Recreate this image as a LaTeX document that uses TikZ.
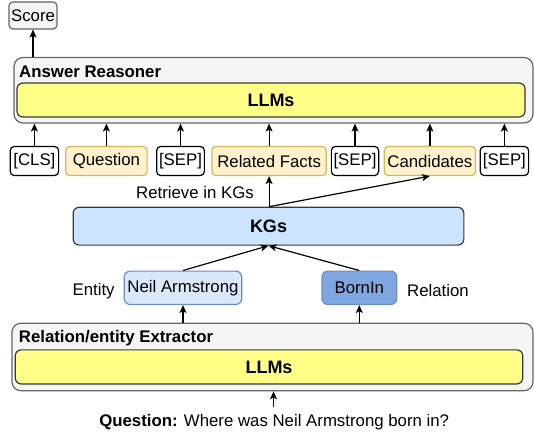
\documentclass[tikz,border=0pt]{standalone}
\usepackage{fontspec}
\setmainfont{Liberation Sans}
\usetikzlibrary{arrows.meta}
\definecolor{grayfill}{HTML}{F5F5F5}
\definecolor{graystroke}{HTML}{666666}
\definecolor{llmfill}{HTML}{FFFF88}
\definecolor{darkstroke}{HTML}{36393D}
\definecolor{tokfill}{HTML}{FFF2CC}
\definecolor{tokstroke}{HTML}{D6B656}
\definecolor{kgfill}{HTML}{CCE5FF}
\definecolor{entfill}{HTML}{DAE8FC}
\definecolor{entstroke}{HTML}{6C8EBF}
\definecolor{relfill}{HTML}{7EA6E0}
\tikzset{
  txt/.style={font=\fontsize{16.8}{20}\selectfont, inner sep=0pt},
  boxbase/.style={rounded corners=4pt, line width=1.2pt, inner sep=0pt, font=\fontsize{16.8}{20}\selectfont},
  outerbox/.style={boxbase, rounded corners=9pt, fill=grayfill, draw=graystroke},
  llmbox/.style={boxbase, rounded corners=6pt, fill=llmfill, draw=darkstroke, font=\fontsize{18}{21}\selectfont\bfseries},
  scorebox/.style={boxbase, fill=grayfill, draw=graystroke},
  plaintok/.style={boxbase, fill=white, draw=black, minimum height=29pt},
  yeltok/.style={boxbase, fill=tokfill, draw=tokstroke, minimum height=29pt},
  kgbox/.style={boxbase, rounded corners=6pt, fill=kgfill, draw=darkstroke, font=\fontsize{18}{21}\selectfont\bfseries},
  entbox/.style={boxbase, rounded corners=6pt, fill=entfill, draw=entstroke},
  relbox/.style={boxbase, rounded corners=6pt, fill=relfill, draw=entstroke},
  arr/.style={line width=1.2pt, -{Stealth[length=8pt,width=7pt,inset=2pt]}},
}
\begin{document}
\begin{tikzpicture}[x=1pt,y=-1pt]
\useasboundingbox (0,0) rectangle (534,435);
% Score
\node[scorebox, minimum width=48pt, minimum height=27pt] (score) at (33,15.5) {Score};
% Answer Reasoner
\node[outerbox, minimum width=519pt, minimum height=65.5pt] (reasoner) at (273.5,90.25) {};
\node[txt, font=\fontsize{16.8}{20}\selectfont\bfseries, anchor=west] (reasonerlbl) at (19,72) {Answer Reasoner};
\node[llmbox, minimum width=508pt, minimum height=34pt] (llm1) at (271,100) {LLMs};
% tokens
\node[plaintok, minimum width=48.4pt] (cls) at (34.4,161) {[CLS]};
\node[yeltok, minimum width=81.4pt] (q) at (106.4,161) {Question};
\node[plaintok, minimum width=47.7pt] (sep1) at (180.5,161) {[SEP]};
\node[yeltok, minimum width=114.4pt] (rf) at (269.1,161) {Related Facts};
\node[plaintok, minimum width=47.3pt] (sep2) at (355,161) {[SEP]};
\node[yeltok, minimum width=91.3pt] (cand) at (429.9,161) {Candidates};
\node[plaintok, minimum width=48.4pt] (sep3) at (504.4,161) {[SEP]};
\foreach \t in {cls,q,sep1,rf,sep2,cand,sep3}{
  \draw[arr] (\t.north) -- (\t.north |- reasoner.south);
}
\draw[arr] (score.south |- reasoner.north) -- (score.south);
% KGs
\node[txt] (retrieve) at (195,192) {Retrieve in KGs};
\node[kgbox, minimum width=390.7pt, minimum height=37.8pt] (kgs) at (268.5,226.2) {KGs};
\draw[arr] (kgs.north -| rf.south) -- (rf.south);
\draw[arr] (kgs.north -| rf.south) -- (cand.south);
% entity / relation
\node[entbox, minimum width=117.5pt, minimum height=33.4pt] (neil) at (183,287.8) {Neil Armstrong};
\node[relbox, minimum width=74.9pt, minimum height=33.4pt] (born) at (359.3,287.8) {BornIn};
\node[txt] (entity) at (93.6,290.9) {Entity};
\node[txt] (relation) at (438,290.9) {Relation};
\draw[arr] (neil.north) -- (kgs.south);
\draw[arr] (born.north) -- (kgs.south);
% Extractor
\node[outerbox, minimum width=521.1pt, minimum height=67.5pt] (extractor) at (272.5,357) {};
\node[txt, font=\fontsize{16.8}{20}\selectfont\bfseries, anchor=west] (extractorlbl) at (18.7,338) {Relation/entity Extractor};
\node[llmbox, minimum width=507.5pt, minimum height=34.1pt] (llm2) at (269,366.9) {LLMs};
\draw[arr] (neil.south |- extractor.north) -- (neil.south);
\draw[arr] (born.south |- extractor.north) -- (born.south);
% Question
\node[txt] (question) at (274.2,422) {\textbf{Question:} Where was Neil Armstrong born in?};
\coordinate (qstart) at (273.5,406.7);
\draw[arr] (qstart) -- (qstart |- extractor.south);
\end{tikzpicture}
\end{document}
